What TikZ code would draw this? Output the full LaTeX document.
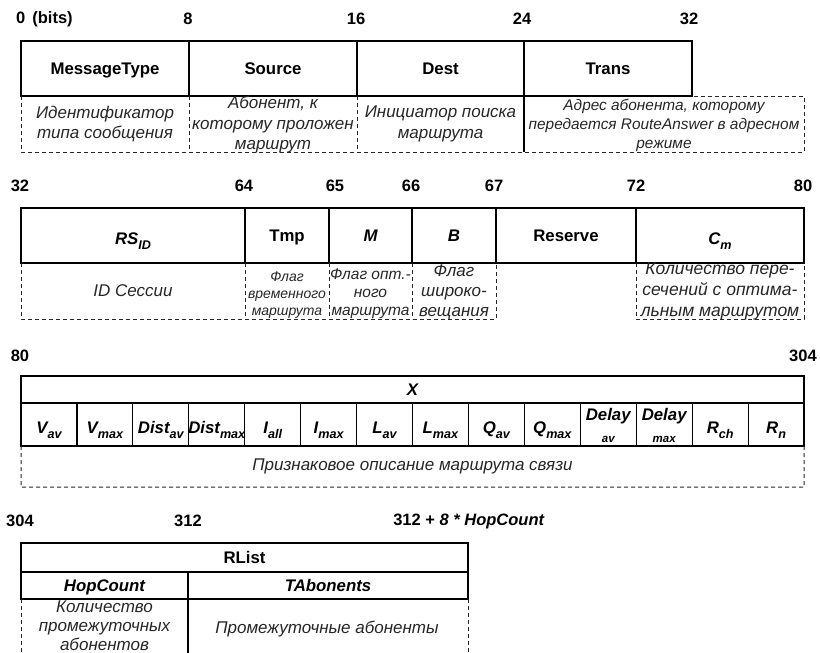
\documentclass[tikz,border=0pt]{standalone}
\usepackage{fontspec}
\setmainfont{Liberation Sans}

% fonts for field titles, descriptions and bit numbers
\newcommand\ttlfont{\fontsize{16.8}{20}\selectfont\bfseries}
\newcommand\dscfont{\fontsize{17}{20.5}\selectfont\itshape}
\newcommand\numfont{\fontsize{16.5}{18}\selectfont\bfseries}
% lowered subscript in the current shape
\newcommand\sbs[1]{\raisebox{-0.3em}{\fontsize{12.6}{12.6}\selectfont #1}}

\tikzset{
  fieldbox/.style={draw, line width=1.2pt, inner sep=0pt, outer sep=0pt},
  ttl/.style={inner sep=0pt, font=\ttlfont},
  ttlit/.style={inner sep=0pt, font=\ttlfont\itshape},
  desc/.style={inner sep=0pt, align=center, font=\dscfont, text=black!85},
  bitnum/.style={inner sep=0pt, font=\numfont},
  dline/.style={line width=1pt, dash pattern=on 4pt off 3pt, black!85},
  sline/.style={line width=1.2pt},
}

% \fld[text style]{name}{x1}{y1}{x2}{y2}{text}{baseline drop below centre}
\newcommand\fld[8][ttl]{%
  \node[fieldbox, minimum width={(#5-#3)*1pt}, minimum height={(#6-#4)*1pt}]
    (#2) at ({(#3+#5)/2},{(#4+#6)/2}) {};
  \node[#1, anchor=base] (#2t) at ({(#3+#5)/2},{(#4+#6)/2+#8}) {#7};}

\begin{document}
\begin{tikzpicture}[x=1pt, y=-1pt]
\useasboundingbox (0,0) rectangle (820,653);

% ---------- bits 0..32 ----------
\node[bitnum, anchor=west] (n0) at (16,19) {0\hspace{7pt}(bits)};
\node[bitnum] (n8)  at (188,19) {8};
\node[bitnum] (n16) at (356,19) {16};
\node[bitnum] (n24) at (522,19) {24};
\node[bitnum] (n32) at (689,19) {32};

\fld{mt}{21}{41}{189}{96}{MessageType}{5.8}
\fld{src}{189}{41}{357}{96}{Source}{5.8}
\fld{dst}{357}{41}{524}{96}{Dest}{5.8}
\fld{trn}{524}{41}{692}{96}{Trans}{5.8}

\draw[dline] (mt.south west) -- (21,152) -- (804,152) -- (804,96) -- (trn.south east);
\draw[dline] (src.south west) -- (189,152);
\draw[dline] (dst.south west) -- (357,152);
\draw[sline] (trn.south west) -- (524,152);

\node[desc] (mtd)  at (105,124) {Идентификатор\\типа сообщения};
\node[desc] (srcd) at (273,125) {Абонент, к\\которому проложен\\маршрут};
\node[desc] (dstd) at (440.5,124) {Инициатор поиска\\маршрута};
\node[desc, font=\fontsize{15.4}{19}\selectfont\itshape] (trnd) at (664,125)
  {Адрес абонента, которому\\передается RouteAnswer в адресном\\режиме};

% ---------- bits 32..80 ----------
\node[bitnum] (n32b) at (20,186) {32};
\node[bitnum] (n64) at (244,186) {64};
\node[bitnum] (n65) at (335,186) {65};
\node[bitnum] (n66) at (411,186) {66};
\node[bitnum] (n67) at (494,186) {67};
\node[bitnum] (n72) at (636,186) {72};
\node[bitnum] (n80) at (803,186) {80};

\fld[ttlit]{rs}{21}{208}{245}{263}{RS\sbs{ID}}{8.5}
\fld{tmp}{245}{208}{329}{263}{Tmp}{5.8}
\fld[ttlit]{m}{329}{208}{412}{263}{M}{5.8}
\fld[ttlit]{b}{412}{208}{496}{263}{B}{5.8}
\fld{res}{496}{208}{636}{263}{Reserve}{5.8}
\fld[ttlit]{cm}{636}{208}{804}{263}{C\sbs{m}}{8.5}

\draw[dline] (rs.south west) -- (21,319) -- (496,319) -- (b.south east);
\draw[dline] (tmp.south west) -- (245,319);
\draw[dline] (m.south west) -- (329,319);
\draw[dline] (b.south west) -- (412,319);
\draw[dline] (cm.south west) -- (636,319) -- (804,319) -- (cm.south east);

\node[desc] (rsd) at (133,291) {ID Сессии};
\node[desc, font=\fontsize{14}{17}\selectfont\itshape] (tmpd) at (287,295)
  {Флаг\\временного\\маршрута};
\node[desc, font=\fontsize{15.5}{18}\selectfont\itshape] (md) at (370.5,294)
  {Флаг опт.-\\ного\\маршрута};
\node[desc, font=\fontsize{17}{20}\selectfont\itshape] (bd) at (454,292)
  {Флаг\\широко-\\вещания};
\node[desc, font=\fontsize{17.5}{21}\selectfont\itshape] (cmd) at (720,291)
  {Количество пере-\\сечений с оптима-\\льным маршрутом};

% ---------- bits 80..304 ----------
\node[bitnum] (n80b) at (20,356) {80};
\node[bitnum] (n304) at (803,356) {304};

\fld[ttlit]{x}{21}{376}{804}{403}{X}{5.8}
\foreach \lab [count=\i from 0] in
  {V\sbs{av}, V\sbs{max}, Dist\sbs{av}, Dist\sbs{max}, I\sbs{all}, I\sbs{max},
   L\sbs{av}, L\sbs{max}, Q\sbs{av}, Q\sbs{max}}
{
  \pgfmathsetmacro\xa{21+\i*783/14}
  \pgfmathsetmacro\xb{21+(\i+1)*783/14}
  \fld[ttlit]{f\i}{\xa}{403}{\xb}{446}{\lab}{9}
}
\foreach \sub [count=\i from 10] in {av, max}
{
  \pgfmathsetmacro\xa{21+\i*783/14}
  \pgfmathsetmacro\xb{21+(\i+1)*783/14}
  \node[fieldbox, minimum width={(\xb-\xa)*1pt}, minimum height=43pt]
    (f\i) at ({(\xa+\xb)/2},424.5) {};
  \node[ttlit, align=center] (f\i t) at ({(\xa+\xb)/2},425.5)
    {Delay\\[2pt]{\fontsize{11.5}{11.5}\selectfont \sub}};
}
\fld[ttlit]{f12}{692.21}{403}{748.14}{446}{R\sbs{ch}}{9}
\fld[ttlit]{f13}{748.14}{403}{804}{446}{R\sbs{n}}{9}

\draw[dline] (f0.south west) -- (21,487) -- (804,487) -- (f13.south east);
\node[desc] (xd) at (412.5,466) {Признаковое описание маршрута связи};

% ---------- bits 304.. ----------
\node[bitnum] (n304b) at (20,521) {304};
\node[bitnum] (n312) at (188,521) {312};
\node[bitnum] (nend) at (469,521) {312 + \textit{8 * HopCount}};

\fld{rl}{21}{543}{468}{572}{RList}{5.5}
\fld[ttlit]{hc}{21}{572}{188}{599}{HopCount}{5.5}
\fld[ttlit]{ta}{188}{572}{468}{599}{TAbonents}{5.5}

\draw[dline] (hc.south west) -- (21,653);
\draw[dline] (ta.south east) -- (468,653);
\draw[sline] (ta.south west) -- (188,653);

\node[desc, font=\fontsize{17}{19}\selectfont\itshape] (hcd) at (104.5,625.5)
  {Количество\\промежуточных\\абонентов};
\node[desc] (tad) at (327,629) {Промежуточные абоненты};
\end{tikzpicture}
\end{document}
